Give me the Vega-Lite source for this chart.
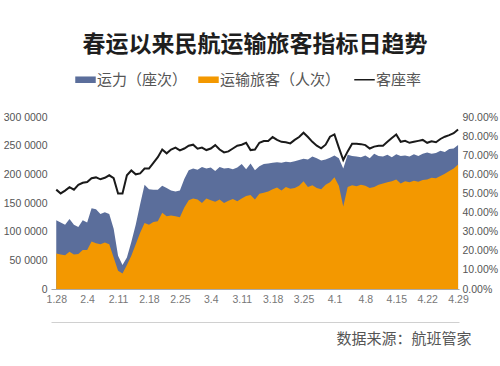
{
  "$schema": "https://vega.github.io/schema/vega-lite/v6.json",
  "width": 408,
  "height": 172,
  "padding": {"left": 3, "right": 3, "top": 34, "bottom": 5},
  "background": "white",
  "config": {"view": {"stroke": null}, "font": "Noto Sans CJK SC", "axis": {"grid": false}},
  "title": {"text": "春运以来民航运输旅客指标日趋势", "fontSize": 23, "fontWeight": "bold", "color": "#1e1e1e", "anchor": "middle", "offset": 15, "font": "Noto Sans CJK SC"},
  "data": {"values": [
    {"d": "1.28", "cap": 1200000, "pax": 620000, "lf": 0.52},
    {"d": "1.29", "cap": 1160000, "pax": 600000, "lf": 0.50},
    {"d": "1.30", "cap": 1120000, "pax": 590000, "lf": 0.515},
    {"d": "1.31", "cap": 1220000, "pax": 650000, "lf": 0.533},
    {"d": "2.1", "cap": 1120000, "pax": 600000, "lf": 0.52},
    {"d": "2.2", "cap": 1080000, "pax": 610000, "lf": 0.545},
    {"d": "2.3", "cap": 1200000, "pax": 680000, "lf": 0.556},
    {"d": "2.4", "cap": 1160000, "pax": 680000, "lf": 0.56},
    {"d": "2.5", "cap": 1410000, "pax": 830000, "lf": 0.58},
    {"d": "2.6", "cap": 1390000, "pax": 800000, "lf": 0.584},
    {"d": "2.7", "cap": 1310000, "pax": 780000, "lf": 0.574},
    {"d": "2.8", "cap": 1340000, "pax": 810000, "lf": 0.582},
    {"d": "2.9", "cap": 1310000, "pax": 780000, "lf": 0.595},
    {"d": "2.10", "cap": 1050000, "pax": 550000, "lf": 0.58},
    {"d": "2.11", "cap": 580000, "pax": 320000, "lf": 0.50},
    {"d": "2.12", "cap": 420000, "pax": 270000, "lf": 0.50},
    {"d": "2.13", "cap": 550000, "pax": 420000, "lf": 0.595},
    {"d": "2.14", "cap": 820000, "pax": 580000, "lf": 0.62},
    {"d": "2.15", "cap": 1120000, "pax": 780000, "lf": 0.60},
    {"d": "2.16", "cap": 1480000, "pax": 980000, "lf": 0.605},
    {"d": "2.17", "cap": 1820000, "pax": 1150000, "lf": 0.63},
    {"d": "2.18", "cap": 1740000, "pax": 1120000, "lf": 0.63},
    {"d": "2.19", "cap": 1730000, "pax": 1170000, "lf": 0.66},
    {"d": "2.20", "cap": 1730000, "pax": 1180000, "lf": 0.69},
    {"d": "2.21", "cap": 1800000, "pax": 1330000, "lf": 0.73},
    {"d": "2.22", "cap": 1760000, "pax": 1270000, "lf": 0.71},
    {"d": "2.23", "cap": 1720000, "pax": 1280000, "lf": 0.73},
    {"d": "2.24", "cap": 1700000, "pax": 1270000, "lf": 0.74},
    {"d": "2.25", "cap": 1720000, "pax": 1250000, "lf": 0.725},
    {"d": "2.26", "cap": 1920000, "pax": 1420000, "lf": 0.735},
    {"d": "2.27", "cap": 2070000, "pax": 1550000, "lf": 0.75},
    {"d": "2.28", "cap": 2100000, "pax": 1580000, "lf": 0.755},
    {"d": "3.1", "cap": 2080000, "pax": 1560000, "lf": 0.734},
    {"d": "3.2", "cap": 2130000, "pax": 1500000, "lf": 0.74},
    {"d": "3.3", "cap": 2100000, "pax": 1580000, "lf": 0.727},
    {"d": "3.4", "cap": 2120000, "pax": 1550000, "lf": 0.735},
    {"d": "3.5", "cap": 2060000, "pax": 1520000, "lf": 0.753},
    {"d": "3.6", "cap": 2130000, "pax": 1560000, "lf": 0.73},
    {"d": "3.7", "cap": 2100000, "pax": 1500000, "lf": 0.715},
    {"d": "3.8", "cap": 2110000, "pax": 1540000, "lf": 0.72},
    {"d": "3.9", "cap": 2090000, "pax": 1570000, "lf": 0.735},
    {"d": "3.10", "cap": 2120000, "pax": 1530000, "lf": 0.75},
    {"d": "3.11", "cap": 2180000, "pax": 1580000, "lf": 0.755},
    {"d": "3.12", "cap": 2090000, "pax": 1620000, "lf": 0.765},
    {"d": "3.13", "cap": 2190000, "pax": 1640000, "lf": 0.727},
    {"d": "3.14", "cap": 2070000, "pax": 1560000, "lf": 0.73},
    {"d": "3.15", "cap": 2140000, "pax": 1660000, "lf": 0.765},
    {"d": "3.16", "cap": 2180000, "pax": 1680000, "lf": 0.774},
    {"d": "3.17", "cap": 2190000, "pax": 1700000, "lf": 0.774},
    {"d": "3.18", "cap": 2200000, "pax": 1740000, "lf": 0.795},
    {"d": "3.19", "cap": 2210000, "pax": 1770000, "lf": 0.78},
    {"d": "3.20", "cap": 2200000, "pax": 1720000, "lf": 0.77},
    {"d": "3.21", "cap": 2220000, "pax": 1780000, "lf": 0.768},
    {"d": "3.22", "cap": 2210000, "pax": 1750000, "lf": 0.762},
    {"d": "3.23", "cap": 2230000, "pax": 1760000, "lf": 0.78},
    {"d": "3.24", "cap": 2250000, "pax": 1800000, "lf": 0.795},
    {"d": "3.25", "cap": 2270000, "pax": 1880000, "lf": 0.818},
    {"d": "3.26", "cap": 2260000, "pax": 1780000, "lf": 0.795},
    {"d": "3.27", "cap": 2310000, "pax": 1810000, "lf": 0.77},
    {"d": "3.28", "cap": 2280000, "pax": 1760000, "lf": 0.75},
    {"d": "3.29", "cap": 2240000, "pax": 1740000, "lf": 0.736},
    {"d": "3.30", "cap": 2260000, "pax": 1820000, "lf": 0.755},
    {"d": "3.31", "cap": 2290000, "pax": 1860000, "lf": 0.797},
    {"d": "4.1", "cap": 2330000, "pax": 1950000, "lf": 0.809},
    {"d": "4.2", "cap": 2280000, "pax": 1800000, "lf": 0.74},
    {"d": "4.3", "cap": 2100000, "pax": 1440000, "lf": 0.675},
    {"d": "4.4", "cap": 2340000, "pax": 1780000, "lf": 0.72},
    {"d": "4.5", "cap": 2320000, "pax": 1810000, "lf": 0.76},
    {"d": "4.6", "cap": 2310000, "pax": 1790000, "lf": 0.76},
    {"d": "4.7", "cap": 2300000, "pax": 1820000, "lf": 0.758},
    {"d": "4.8", "cap": 2330000, "pax": 1800000, "lf": 0.753},
    {"d": "4.9", "cap": 2280000, "pax": 1760000, "lf": 0.735},
    {"d": "4.10", "cap": 2360000, "pax": 1780000, "lf": 0.745},
    {"d": "4.11", "cap": 2320000, "pax": 1820000, "lf": 0.75},
    {"d": "4.12", "cap": 2310000, "pax": 1840000, "lf": 0.75},
    {"d": "4.13", "cap": 2340000, "pax": 1860000, "lf": 0.77},
    {"d": "4.14", "cap": 2300000, "pax": 1880000, "lf": 0.79},
    {"d": "4.15", "cap": 2350000, "pax": 1910000, "lf": 0.809},
    {"d": "4.16", "cap": 2320000, "pax": 1840000, "lf": 0.77},
    {"d": "4.17", "cap": 2330000, "pax": 1880000, "lf": 0.775},
    {"d": "4.18", "cap": 2310000, "pax": 1860000, "lf": 0.765},
    {"d": "4.19", "cap": 2350000, "pax": 1890000, "lf": 0.77},
    {"d": "4.20", "cap": 2320000, "pax": 1870000, "lf": 0.775},
    {"d": "4.21", "cap": 2360000, "pax": 1900000, "lf": 0.78},
    {"d": "4.22", "cap": 2380000, "pax": 1910000, "lf": 0.765},
    {"d": "4.23", "cap": 2360000, "pax": 1940000, "lf": 0.773},
    {"d": "4.24", "cap": 2370000, "pax": 1930000, "lf": 0.768},
    {"d": "4.25", "cap": 2410000, "pax": 1970000, "lf": 0.785},
    {"d": "4.26", "cap": 2390000, "pax": 2010000, "lf": 0.797},
    {"d": "4.27", "cap": 2440000, "pax": 2060000, "lf": 0.805},
    {"d": "4.28", "cap": 2450000, "pax": 2100000, "lf": 0.815},
    {"d": "4.29", "cap": 2510000, "pax": 2170000, "lf": 0.835}
  ]},
  "layer": [
    {
      "layer": [
        {
          "mark": {"type": "area", "interpolate": "linear"},
          "encoding": {
            "x": {"field": "d", "type": "ordinal", "sort": null,
              "scale": {"type": "point", "padding": 0.7, "align": 0.85},
              "axis": {"values": ["1.28","2.4","2.11","2.18","2.25","3.4","3.11","3.18","3.25","4.1","4.8","4.15","4.22","4.29"],
                "labelAngle": 0, "ticks": false, "domainColor": "#a9a9a9", "labelColor": "#777777", "labelFontSize": 10.5, "labelFont": "Liberation Sans", "labelPadding": 5,
                "title": "数据来源：航班管家", "titleFontSize": 15, "titleFontWeight": "normal", "titleColor": "#555555", "titleAlign": "right", "titleBaseline": "middle", "titleX": 420, "titleY": 49, "titleFont": "Noto Sans CJK SC"}},
            "y": {"field": "cap", "type": "quantitative", "stack": null,
              "scale": {"domain": [0, 3000000]},
              "axis": {"values": [0, 500000, 1000000, 1500000, 2000000, 2500000, 3000000],
                "labelExpr": "datum.value == 0 ? '0' : format(datum.value / 10000, 'd') + ' 0000'", "labelOverlap": false,
                "domain": false, "ticks": false, "title": null, "labelColor": "#555555", "labelFontSize": 10.5, "labelFont": "Liberation Sans", "labelPadding": 4}},
            "color": {"datum": "运力（座次）",
              "scale": {"domain": ["运力（座次）", "运输旅客（人次）", "客座率"], "range": ["#5b6e9b", "#f39800", "#1a1a1a"]},
              "legend": {"orient": "none", "legendX": 27, "legendY": -45, "direction": "horizontal", "title": null,
                "labelFontSize": 15, "labelColor": "#555555", "labelFont": "Noto Sans CJK SC", "symbolSize": 420, "columnPadding": 10, "labelOffset": 4,
                "symbolType": "M-1,-0.32H1V0.32H-1Z",
                "encode": {"symbols": {"update": {
                  "shape": {"signal": "datum.label == '客座率' ? 'M-1,0H1' : 'M-1,-0.32H1V0.32H-1Z'"},
                  "strokeWidth": {"signal": "datum.label == '客座率' ? 1.5 : 0"},
                  "stroke": {"signal": "scale('color', datum.value)"},
                  "fill": {"signal": "scale('color', datum.value)"}
                }}}}}
          }
        },
        {
          "mark": {"type": "area", "interpolate": "linear"},
          "encoding": {
            "x": {"field": "d", "type": "ordinal", "sort": null},
            "y": {"field": "pax", "type": "quantitative", "stack": null,
              "axis": {"values": [0, 500000, 1000000, 1500000, 2000000, 2500000, 3000000],
                "labelExpr": "datum.value == 0 ? '0' : format(datum.value / 10000, 'd') + ' 0000'", "labelOverlap": false,
                "domain": false, "ticks": false, "title": null, "labelColor": "#555555", "labelFontSize": 10.5, "labelFont": "Liberation Sans", "labelPadding": 4}},
            "color": {"datum": "运输旅客（人次）"}
          }
        }
      ]
    },
    {
      "mark": {"type": "line", "strokeWidth": 2},
      "encoding": {
        "x": {"field": "d", "type": "ordinal", "sort": null,
          "axis": {"orient": "bottom", "offset": 33, "labels": false, "ticks": false, "domain": true, "domainColor": "#d0d0d0", "title": null}},
        "y": {"field": "lf", "type": "quantitative",
          "scale": {"domain": [0, 0.9]},
          "axis": {"orient": "right", "values": [0, 0.1, 0.2, 0.3, 0.4, 0.5, 0.6, 0.7, 0.8, 0.9], "format": ".2%", "labelOverlap": false,
            "domain": false, "ticks": false, "title": null, "labelColor": "#555555", "labelFontSize": 10.5, "labelFont": "Liberation Sans", "labelPadding": 3}},
        "color": {"datum": "客座率"}
      }
    }
  ],
  "resolve": {"scale": {"y": "independent"}, "axis": {"x": "independent"}}
}
